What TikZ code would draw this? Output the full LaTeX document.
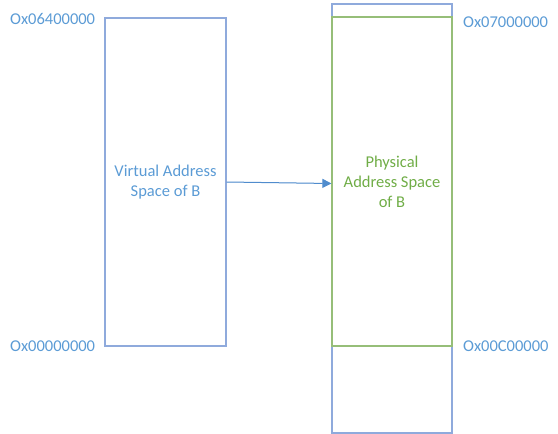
\documentclass[tikz,border=0pt]{standalone}
\usepackage{fontspec}
\setmainfont{Carlito}
\usetikzlibrary{arrows.meta}
\definecolor{addrblue}{RGB}{91,155,213}
\definecolor{lineblue}{RGB}{143,170,220}
\definecolor{addrgreen}{RGB}{112,173,71}
\definecolor{linegreen}{RGB}{150,190,120}
\definecolor{arrowblue}{RGB}{80,140,205}
\begin{document}
\begin{tikzpicture}[
        x=1pt, y=-1pt,
        font=\fontsize{16.5}{20}\selectfont,
        space/.style={rectangle, line width=1.2pt, align=center, inner sep=0pt},
        virt/.style={space, draw=lineblue, text=addrblue, minimum width=121pt, minimum height=328pt},
        phys/.style={space, draw=linegreen, text=addrgreen, minimum width=120pt, minimum height=329pt},
        spare/.style={space, draw=lineblue, minimum width=120pt},
        addr/.style={text=addrblue, inner sep=0pt},
        arrow/.style={-{Triangle[length=9pt,width=9pt]}, line width=1pt, draw=arrowblue, fill=arrowblue}
    ]
        \useasboundingbox (0,0) rectangle (558,434);

        % Address spaces
        \node[virt] (VAS) at (165.5, 182) {Virtual Address\\Space of B};
        \node[spare, minimum height=13pt] (Top) at (392, 10.5) {};
        \node[spare, minimum height=87pt] (Bottom) at (392, 389.5) {};
        \node[phys] (PAS) at (392, 181.5) {Physical\\Address Space\\of B};

        % Addresses
        \node[addr, anchor=west] (VHigh) at (10, 19) {Ox06400000};
        \node[addr, anchor=west] (VLow) at (10, 346) {Ox00000000};
        \node[addr, anchor=west] (PHigh) at (463, 22) {Ox07000000};
        \node[addr, anchor=west] (PLow) at (463, 346) {Ox00C00000};

        % Mapping
        \draw[arrow] (VAS.east) -- ([yshift=-2pt]PAS.west);
    \end{tikzpicture}
\end{document}
